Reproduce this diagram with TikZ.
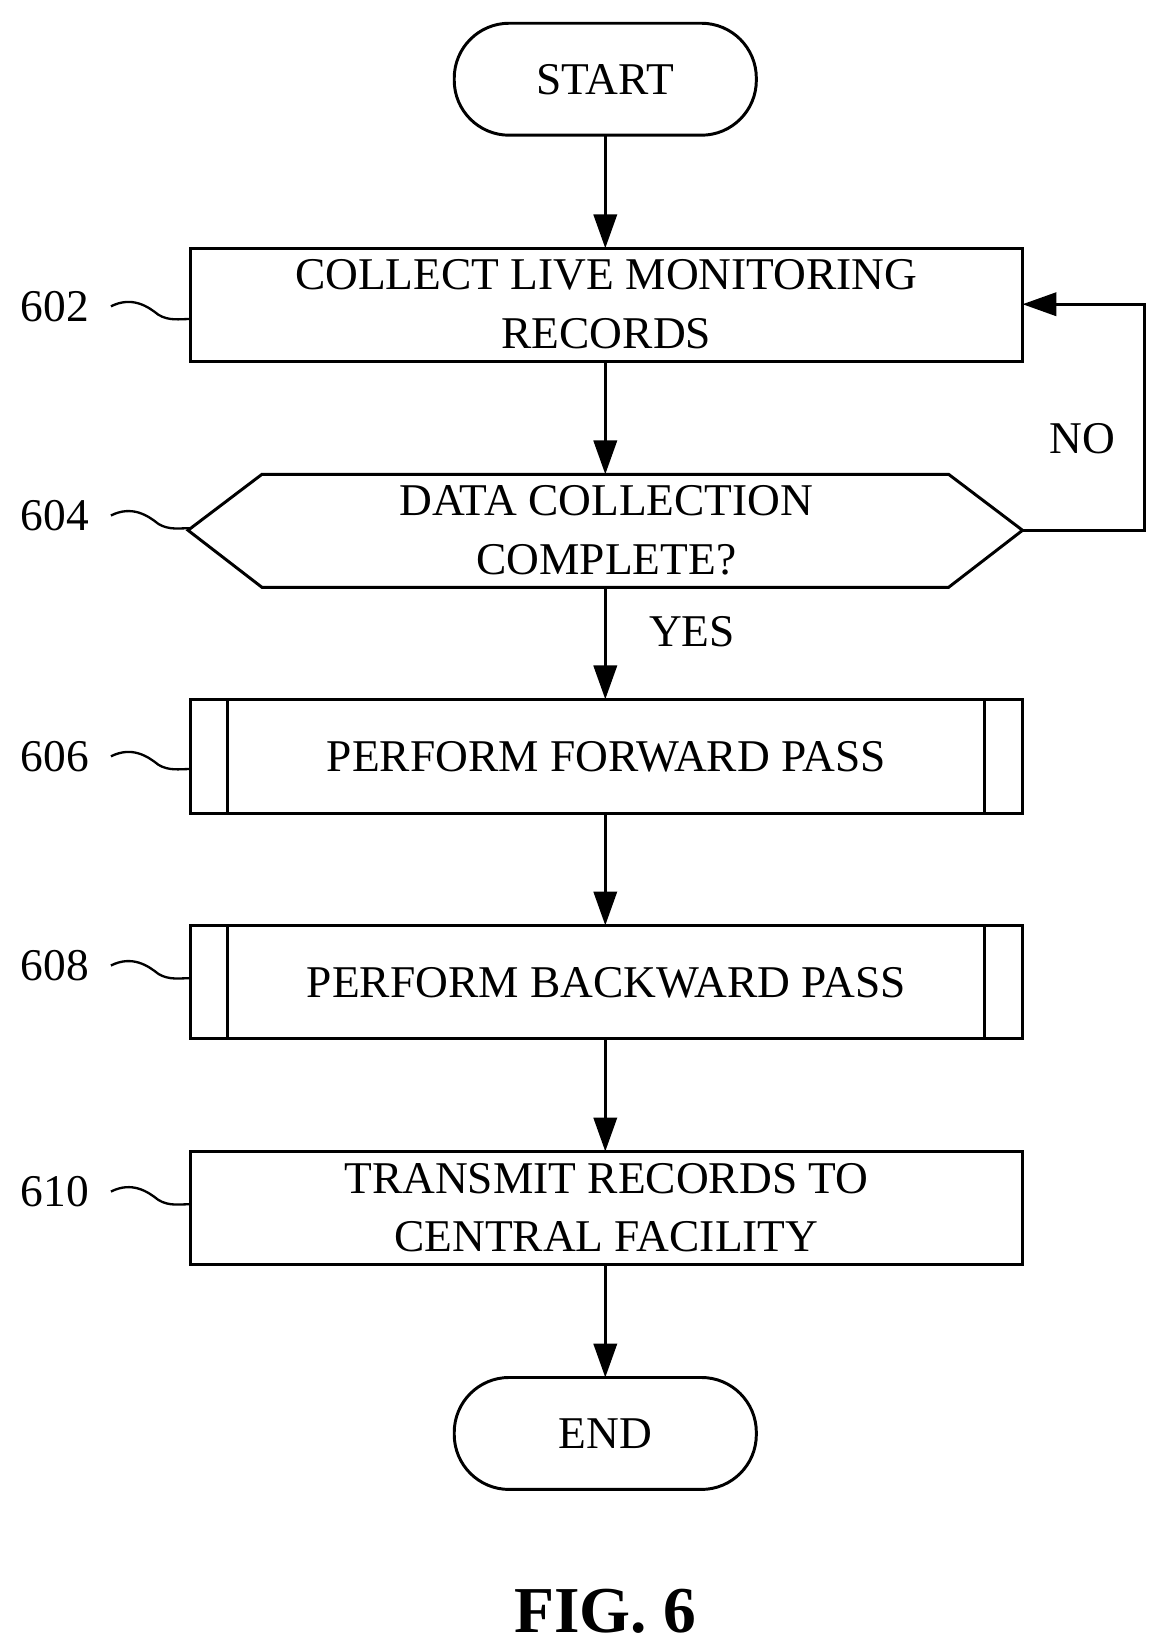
\documentclass[tikz,border=0pt]{standalone}
\usepackage{fontspec}
\setmainfont{Liberation Serif}
\usetikzlibrary{arrows.meta}
\begin{document}
\begin{tikzpicture}[x=1pt,y=-1pt,line width=2.8pt,
  txt/.style={font=\fontsize{43}{55}\selectfont,align=center,inner sep=0pt},
  arr/.style={-{Triangle[length=32pt,width=22pt]}},
  sq/.style={line width=2.2pt}]
\useasboundingbox (0,0) rectangle (1100,1562);
\draw[rounded corners=52] (430,22) rectangle (716,128);
\node[txt] (start) at (573,75) {START};
\draw (180,235) rectangle (968,342);
\node[txt] (b602) at (574,288) {COLLECT LIVE MONITORING\\RECORDS};
\draw (178,502) -- (248,449) -- (898,449) -- (968,502) -- (898,556) -- (248,556) -- cycle;
\node[txt] (d604) at (574,502) {DATA COLLECTION\\COMPLETE?};
\draw (180,662) rectangle (968,770); \draw (215,662)--(215,770); \draw (932,662)--(932,770);
\node[txt] (b606) at (574,716) {PERFORM FORWARD PASS};
\draw (180,876) rectangle (968,983); \draw (215,876)--(215,983); \draw (932,876)--(932,983);
\node[txt] (b608) at (574,930) {PERFORM BACKWARD PASS};
\draw (180,1090) rectangle (968,1197);
\node[txt] (b610) at (574,1143) {TRANSMIT RECORDS TO\\CENTRAL FACILITY};
\draw[rounded corners=52] (430,1304) rectangle (716,1410);
\node[txt] (end) at (573,1357) {END};
\node[font=\bfseries\fontsize{62}{66}\selectfont] (fig) at (573,1525) {FIG. 6};
\coordinate (s1) at (573,128); \coordinate (t1) at (573,235);
\coordinate (s2) at (573,342); \coordinate (t2) at (573,449);
\coordinate (s3) at (573,556); \coordinate (t3) at (573,662);
\coordinate (s4) at (573,770); \coordinate (t4) at (573,876);
\coordinate (s5) at (573,983); \coordinate (t5) at (573,1090);
\coordinate (s6) at (573,1197); \coordinate (t6) at (573,1304);
\foreach \i in {1,...,6} \draw[arr] (s\i) -- (t\i);
\coordinate (hr) at (968,502); \coordinate (br) at (968,288);
\draw[arr] (hr) -- (1083,502) -- (1083,288) -- (br);
\node[txt] (no) at (1025,415) {NO};
\node[txt] (yes) at (655,598) {YES};
\foreach \lab/\y in {602/290,604/488,606/716,608/914,610/1128}{
  \node[txt] (l\lab) at (52,\y) {\lab};
  \draw[sq] (105,\y) .. controls (125,\y-10) and (140,\y) .. (150,\y+8) .. controls (160,\y+14) and (170,\y+12) .. (180,\y+12);
}
\end{tikzpicture}
\end{document}
